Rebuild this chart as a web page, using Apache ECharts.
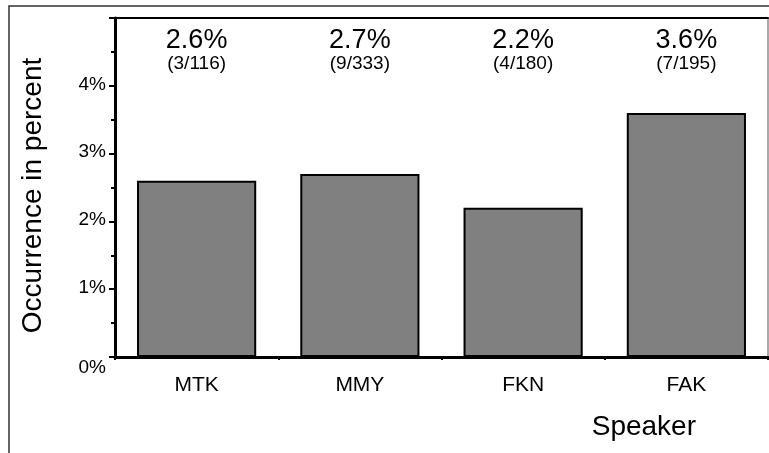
<!DOCTYPE html>
<html>
<head>
<meta charset="utf-8">
<script src="https://cdn.jsdelivr.net/npm/echarts@6/dist/echarts.min.js"></script>
<style>
  html, body { margin: 0; padding: 0; background: #fff; }
  #chart { width: 769px; height: 453px; }
</style>
</head>
<body>
<div id="chart"></div>
<script>
// Speakers and their occurrence rates (percent)
const speakers = ['MTK', 'MMY', 'FKN', 'FAK'];
const percents = [2.6, 2.7, 2.2, 3.6];
// Raw counts behind each rate: hits / total
const hits = [3, 9, 4, 7];
const totals = [116, 333, 180, 195];
const yTicks = [0, 1, 2, 3, 4];

const FONT = '"Liberation Sans", Arial, Helvetica, sans-serif';
const LABEL_LEVEL = 4.52; // height (in axis units) of the annotation row

const chart = echarts.init(document.getElementById('chart'), null, { renderer: 'canvas' });

const option = {
  animation: false,
  backgroundColor: '#fff',
  textStyle: { fontFamily: FONT, color: '#000' },
  graphic: [
    {
      type: 'rect',
      shape: { x: 9, y: 6, width: 800, height: 500 },
      style: { fill: 'none', stroke: '#333', lineWidth: 1.5 },
      silent: true
    }
  ],
  grid: {
    left: 115, top: 18, width: 653, bottom: 96,
    show: true, borderColor: '#555', borderWidth: 1, backgroundColor: 'transparent'
  },
  xAxis: [
    {
      type: 'category',
      data: speakers,
      position: 'bottom',
      axisLine: { lineStyle: { color: '#000', width: 3 } },
      axisTick: { show: true, length: 3, inside: false, lineStyle: { color: '#000', width: 2 } },
      axisLabel: { color: '#000', fontSize: 21, fontFamily: FONT, margin: 18 },
      name: 'Speaker',
      nameLocation: 'end',
      nameGap: -72,
      nameTextStyle: {
        fontSize: 28, fontFamily: FONT, color: '#000',
        align: 'right', verticalAlign: 'top', padding: [56, 0, 0, 0]
      }
    },
    {
      type: 'category',
      data: speakers,
      position: 'top',
      axisLine: { show: true, lineStyle: { color: '#000', width: 2 } },
      axisTick: { show: false },
      axisLabel: { show: false }
    }
  ],
  yAxis: {
    type: 'value',
    min: 0,
    max: 5,
    interval: 1,
    splitLine: { show: false },
    axisLine: { show: true, lineStyle: { color: '#000', width: 3 } },
    axisTick: { show: true, length: 6, lineStyle: { color: '#000', width: 2 } },
    minorTick: { show: true, splitNumber: 2, length: 4, lineStyle: { color: '#000', width: 2 } },
    axisLabel: {
      color: '#000', fontSize: 19, fontFamily: FONT, margin: 9,
      formatter: function (v) {
        if (yTicks.indexOf(v) < 0) return '';
        return v === 0 ? '{z|0%}' : '{n|' + v + '%}';
      },
      rich: {
        n: { fontSize: 19, fontFamily: FONT, color: '#000', padding: [0, 0, 3, 0] },
        z: { fontSize: 19, fontFamily: FONT, color: '#000', padding: [22, 0, 0, 0] }
      }
    },
    name: 'Occurrence in percent',
    nameLocation: 'middle',
    nameGap: 68,
    nameTextStyle: { fontSize: 28, fontFamily: FONT, color: '#000', padding: [0, 16, 0, 0] }
  },
  series: [
    {
      type: 'bar',
      data: percents,
      barWidth: '73%',
      itemStyle: { color: '#808080', borderColor: '#000', borderWidth: 2 }
    },
    {
      type: 'scatter',
      symbolSize: 0,
      itemStyle: { opacity: 1 },
      data: speakers.map(function (s, i) { return [s, LABEL_LEVEL]; }),
      label: {
        show: true,
        position: 'inside',
        color: '#000',
        opacity: 1,
        formatter: function (p) {
          const i = p.dataIndex;
          return '{big|' + percents[i].toFixed(1) + '%}\n{small|(' + hits[i] + '/' + totals[i] + ')}';
        },
        rich: {
          big: { fontSize: 27, lineHeight: 26, fontFamily: FONT, color: '#000', align: 'center' },
          small: { fontSize: 19, lineHeight: 20, fontFamily: FONT, color: '#000', align: 'center' }
        }
      },
      silent: true
    }
  ]
};

chart.setOption(option);
</script>
</body>
</html>
